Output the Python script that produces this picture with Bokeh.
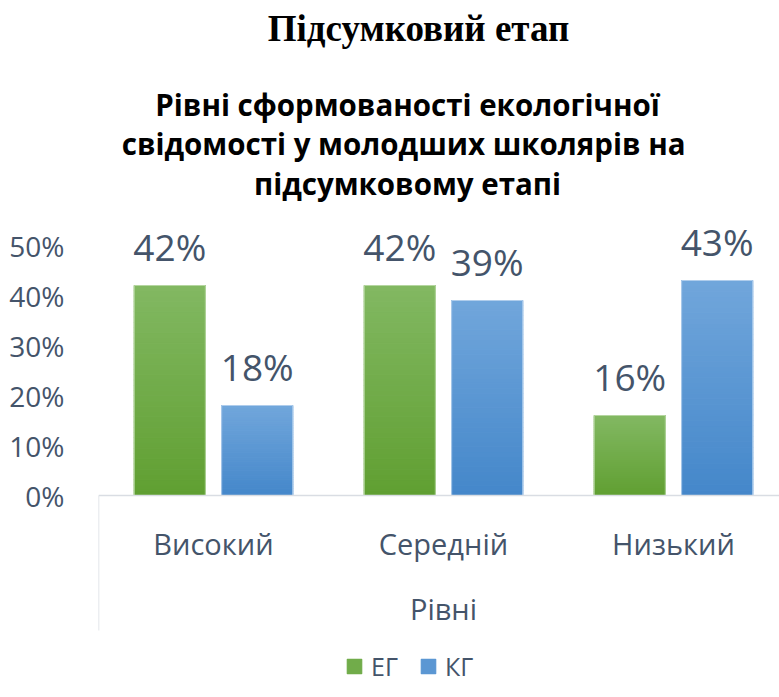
from bokeh.plotting import figure
from bokeh.models import (ColumnDataSource, FixedTicker, NumeralTickFormatter, Label,
                          LabelSet, Legend, LegendItem, Range1d, Span)
from bokeh.core.properties import value
from bokeh.embed import file_html
from bokeh.resources import INLINE

categories = ["Високий", "Середній", "Низький"]
eg_values = [0.42, 0.42, 0.16]
kg_values = [0.18, 0.39, 0.43]
series_names = ["ЕГ", "КГ"]
y_ticks = [0, 0.1, 0.2, 0.3, 0.4, 0.5]
main_title = "Підсумковий етап"
chart_title = ["Рівні сформованості екологічної",
               "свідомості  у молодших школярів на",
               "підсумковому етапі"]
x_title = "Рівні"

TEXT = "#44546A"
GREEN_BOTTOM, GREEN_TOP = (0x60, 0x9F, 0x31), (0x82, 0xB8, 0x62)
BLUE_BOTTOM, BLUE_TOP = (0x44, 0x87, 0xCA), (0x71, 0xA6, 0xDB)
AXIS = "#D9DDE3"
FONT = "Open Sans"
N_SLICES = 40
BAR_W = 0.309
OFFSET = 0.19

centers = [i + 0.5 for i in range(len(categories))]


def mix(c0, c1, t):
    return "#%02x%02x%02x" % tuple(round(a + (b - a) * t) for a, b in zip(c0, c1))


def gradient_source(xs, vals, c0, c1):
    d = dict(x=[], bottom=[], top=[], color=[])
    for x, v in zip(xs, vals):
        for k in range(N_SLICES):
            d["x"].append(x)
            d["bottom"].append(v * k / N_SLICES)
            d["top"].append(v * (k + 1) / N_SLICES)
            d["color"].append(mix(c0, c1, (k + 0.5) / N_SLICES))
    return ColumnDataSource(d)


xg = [c - OFFSET for c in centers]
xk = [c + OFFSET for c in centers]
src = ColumnDataSource(dict(
    xg=xg, xk=xk, eg=eg_values, kg=kg_values,
    eg_t=[f"{round(v*100)}%" for v in eg_values],
    kg_t=[f"{round(v*100)}%" for v in kg_values],
))
cat_src = ColumnDataSource(dict(x=centers, y=[0] * len(centers), t=categories))

# frame covers the whole canvas height: 0% at page y 495, 500 px per unit; left at page x 98
p = figure(width=779, height=697, output_backend="svg", toolbar_location=None,
           x_axis_location=None,
           x_range=Range1d(0, 2.961), y_range=Range1d(-0.404, 0.99),
           min_border_left=98, min_border_right=0, min_border_top=0,
           min_border_bottom=0)
p.outline_line_color = None
p.xgrid.visible = False
p.ygrid.visible = False

rg = p.vbar(x="x", bottom="bottom", top="top", width=BAR_W,
            source=gradient_source(xg, eg_values, GREEN_BOTTOM, GREEN_TOP),
            fill_color="color", line_color="color", line_width=1.2)
rk = p.vbar(x="x", bottom="bottom", top="top", width=BAR_W,
            source=gradient_source(xk, kg_values, BLUE_BOTTOM, BLUE_TOP),
            fill_color="color", line_color="color", line_width=1.2)
p.vbar(x="xg", top="eg", width=BAR_W, source=src, fill_color=None,
       line_color="#B5D6A0", line_width=1)
p.vbar(x="xk", top="kg", width=BAR_W, source=src, fill_color=None,
       line_color="#AFCDEC", line_width=1)

# category axis line and left boundary line
p.add_layout(Span(location=0, dimension="width", line_color=AXIS, line_width=1.5))
p.segment(x0=[0], y0=[0], x1=[0], y1=[-0.27], line_color=AXIS, line_width=1.5)

for col, ycol, tcol in (("xg", "eg", "eg_t"), ("xk", "kg", "kg_t")):
    p.add_layout(LabelSet(x=col, y=ycol, text=tcol, source=src, y_offset=25,
                          text_align="center", text_baseline="alphabetic",
                          text_font=value(FONT), text_font_size="37px", text_color=TEXT))

p.add_layout(LabelSet(x="x", y="y", text="t", source=cat_src, y_offset=-48,
                      text_align="center", text_baseline="middle",
                      text_font=value(FONT), text_font_size="29px", text_color=TEXT))

p.add_layout(Label(x=1.5, y=697 - 608, y_units="screen", text=x_title,
                   text_align="center", text_baseline="middle", text_font=FONT,
                   text_font_size="29px", text_color=TEXT))

# y axis
p.yaxis.ticker = FixedTicker(ticks=y_ticks)
p.yaxis.formatter = NumeralTickFormatter(format="0%")
p.yaxis.axis_line_color = None
p.yaxis.major_tick_line_color = None
p.yaxis.minor_tick_line_color = None
p.yaxis.major_label_standoff = 28
p.yaxis.major_label_text_font = FONT
p.yaxis.major_label_text_font_size = "28px"
p.yaxis.major_label_text_color = TEXT

# titles (screen units relative to frame bottom-left; frame left = page 98, bottom = page 697)
p.add_layout(Label(x=320, y=697 - 28, x_units="screen", y_units="screen", text=main_title,
                   text_align="center", text_baseline="middle", text_font="Liberation Serif",
                   text_font_style="bold", text_font_size="37px", text_color="black"))
for line, yc in zip(chart_title, [104, 143, 183]):
    p.add_layout(Label(x=309, y=697 - yc, x_units="screen", y_units="screen", text=line,
                       text_align="center", text_baseline="middle", text_font=FONT,
                       text_font_style="bold", text_font_size="29.5px", text_color="black"))

legend = Legend(items=[LegendItem(label=series_names[0], renderers=[rg], index=N_SLICES // 2),
                       LegendItem(label=series_names[1], renderers=[rk], index=N_SLICES // 2)],
                location=(247, 14), orientation="horizontal", padding=0, margin=0,
                spacing=21, label_standoff=8, glyph_width=18, glyph_height=18,
                border_line_color=None, background_fill_alpha=0,
                label_text_font=FONT, label_text_font_size="25px", label_text_color=TEXT)
p.add_layout(legend)

open("out.html", "w").write(file_html(p, INLINE))
